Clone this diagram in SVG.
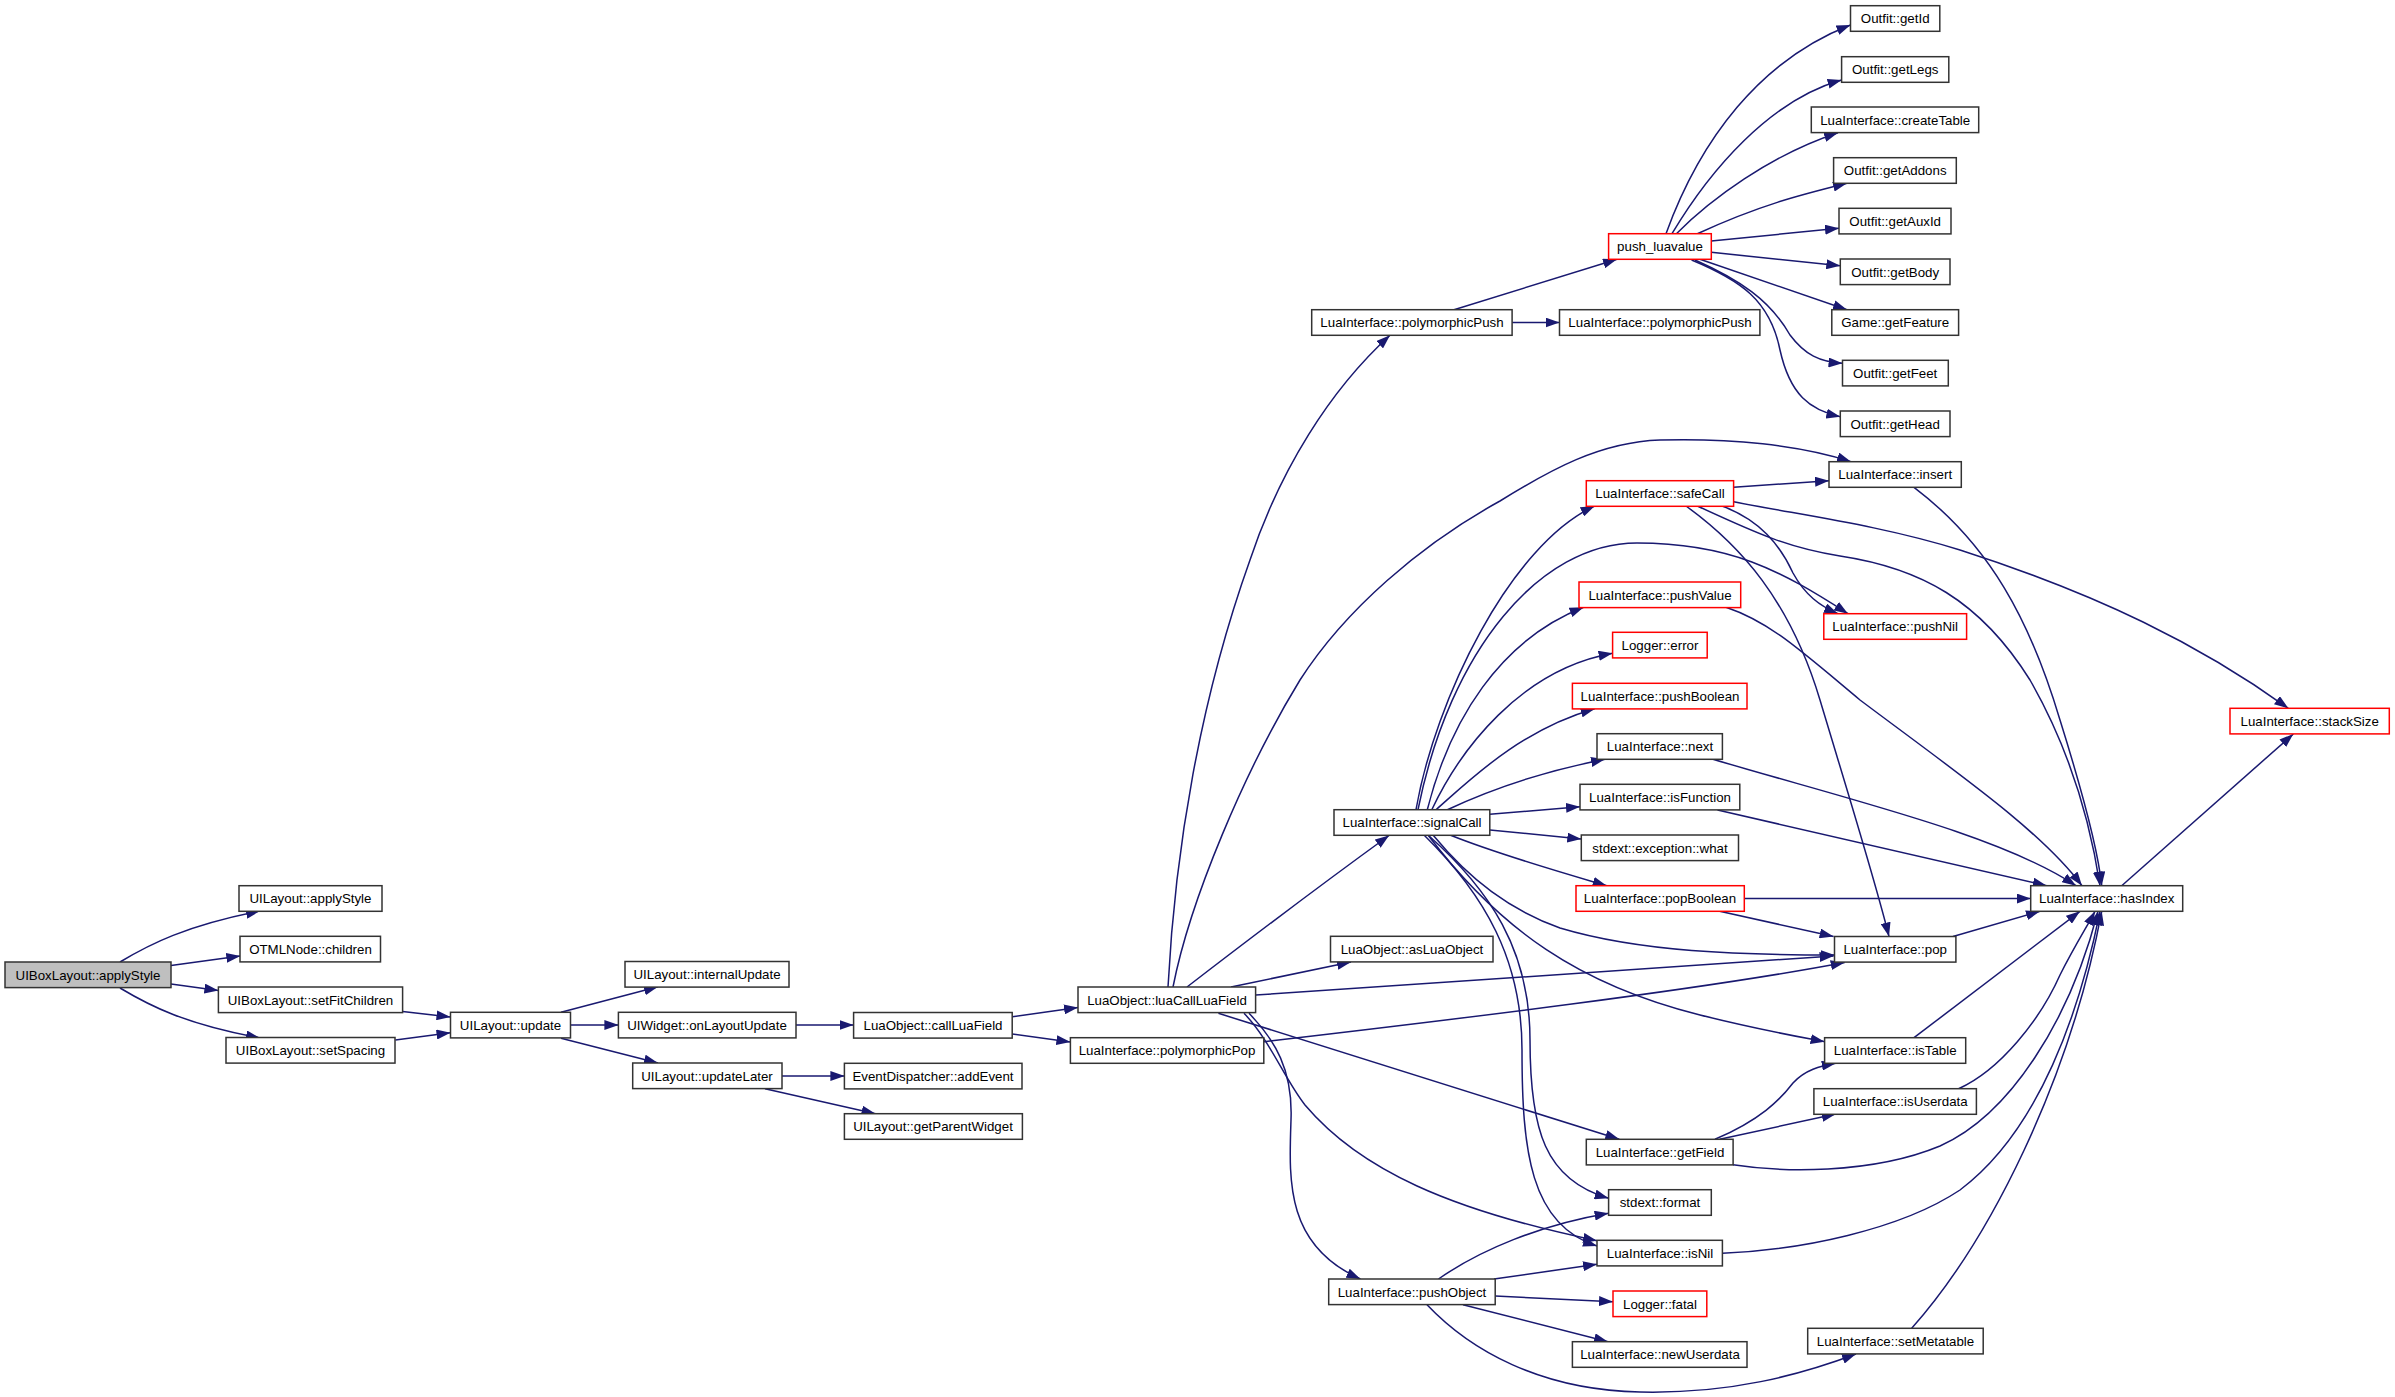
<svg xmlns="http://www.w3.org/2000/svg" width="2395" height="1397" viewBox="0 0 2395 1397">
<style>
.node rect{fill:#ffffff;stroke:#333333;stroke-width:1.5}
.node.red rect{stroke:#ff0000}
.node.root rect{fill:#bfbfbf}
.node text{font-family:"Liberation Sans",Arial,sans-serif;font-size:13.3px;text-anchor:middle;fill:#000000}
#edges path{fill:none;stroke:#191970;stroke-width:1.5;marker-end:url(#arr)}
</style>
<defs>
<marker id="arr" markerUnits="userSpaceOnUse" markerWidth="14" markerHeight="10" viewBox="0 0 14 10" refX="14" refY="5" orient="auto">
<path d="M0,0 L14,5 L0,10 z" fill="#191970"/>
</marker>
</defs>
<rect x="0" y="0" width="2395" height="1397" fill="#ffffff"/>
<g id="edges">
<path d="M120,962 C150,944 185,926 260,911"/>
<path d="M171,965.5 L240.3,956"/>
<path d="M171,984 L218.4,990.5"/>
<path d="M120,988 C150,1006 185,1024 260,1038"/>
<path d="M402.6,1011.5 L450.5,1017"/>
<path d="M395.4,1040 L450.5,1032.7"/>
<path d="M561,1012.3 L658,986.8"/>
<path d="M570.5,1025 L618.4,1025"/>
<path d="M561,1038.3 L658,1063"/>
<path d="M782,1076 L844.4,1076"/>
<path d="M765,1088.7 L875.5,1113.7"/>
<path d="M796,1025 L853.6,1025"/>
<path d="M1012.2,1016.7 L1078,1007.5"/>
<path d="M1012.2,1034 L1070.4,1042"/>
<path d="M1231,987 L1351,962"/>
<path d="M1187,987 Q1300,900 1389,835.5"/>
<path d="M1168,987 C1175,850 1200,700 1250,560 C1280,470 1330,390 1390,335.3"/>
<path d="M1173,987 C1190,900 1245,770 1300,680 C1345,610 1420,545 1500,501 C1550,470 1600,442 1660,440 C1730,438 1800,445 1851,461.7"/>
<path d="M1255.6,995 L1833.6,956"/>
<path d="M1218.4,1013.3 L1619.3,1139.3"/>
<path d="M1244,1013.3 C1270,1040 1285,1080 1305,1105 C1360,1170 1450,1210 1597,1240.7"/>
<path d="M1249,1013.3 C1275,1040 1293,1070 1291,1120 C1289,1180 1285,1245 1360.4,1279"/>
<path d="M1264,1041.7 C1450,1020 1700,990 1844.7,962.5"/>
<path d="M1416,809.7 C1435,700 1510,545 1594.7,506"/>
<path d="M1418,809.7 C1450,650 1540,543 1637,543 C1730,543 1780,570 1848,613.7"/>
<path d="M1427.3,809.7 C1450,720 1500,640 1583.6,607.3"/>
<path d="M1431.8,809.7 C1460,750 1520,670 1612.6,653.3"/>
<path d="M1436,809.7 C1470,780 1520,730 1594.7,708.7"/>
<path d="M1447.4,809.7 C1500,785 1550,770 1605,759.3"/>
<path d="M1489.8,814.3 L1580,806.7"/>
<path d="M1490,830 L1581.3,839"/>
<path d="M1450,835 C1500,855 1560,872 1606.7,885.7"/>
<path d="M1433,835 C1470,880 1510,910 1560,928 C1640,952 1740,955 1834.5,955"/>
<path d="M1428,835 C1500,930 1580,985 1700,1015 C1760,1030 1800,1037 1824.6,1041.7"/>
<path d="M1428,835 C1490,890 1530,950 1530,1040 C1530,1130 1545,1180 1608.6,1198.3"/>
<path d="M1424,835 C1485,895 1522,960 1522,1050 C1522,1150 1530,1225 1597,1246"/>
<path d="M1733.6,487.3 L1829,480.7"/>
<path d="M1733.6,501.7 C1800,515 1880,525 1960,550 C2100,595 2200,645 2288.3,708.3"/>
<path d="M1697.4,506 C1760,535 1790,548 1840,556 C1920,568 1980,600 2030,680 C2070,750 2090,820 2100,885.7"/>
<path d="M1722,506 C1760,520 1780,545 1793,573 C1805,595 1820,606 1838,613.7"/>
<path d="M1686,506 C1740,545 1790,600 1820,700 C1850,800 1875,880 1889,936.5"/>
<path d="M1726,607.3 C1770,622 1800,650 1860,700 C1960,775 2040,830 2082,885.7"/>
<path d="M1713,759.3 C1850,800 2000,835 2076,885.7"/>
<path d="M1717.5,810 L2046.7,885.7"/>
<path d="M1744.3,898.5 L2030.7,898.5"/>
<path d="M1719.7,911.3 L1833.6,936.5"/>
<path d="M1914,487.3 C1990,545 2030,620 2060,720 C2085,800 2098,850 2101.7,885.7"/>
<path d="M1953,936.5 L2040,911.3"/>
<path d="M1914,1037.7 L2080,911.3"/>
<path d="M1958.6,1088.7 C2000,1070 2040,1020 2060,975 C2075,945 2088,925 2095,911.3"/>
<path d="M1733,1164.7 C1780,1172 1870,1175 1940,1146 C2010,1115 2070,1020 2098,911.3"/>
<path d="M1722.4,1253.3 C1800,1250 1900,1230 1960,1190 C2040,1130 2080,1010 2100,911.3"/>
<path d="M1911.7,1328.3 C1990,1240 2070,1080 2101.7,911.3"/>
<path d="M2121.7,885.7 L2293.3,734"/>
<path d="M1715,1139.3 C1760,1120 1780,1100 1793,1083 C1805,1070 1820,1066 1835.8,1063.3"/>
<path d="M1719.7,1139.3 L1835.8,1114"/>
<path d="M1438.5,1279 C1480,1250 1540,1225 1608.6,1213.3"/>
<path d="M1494,1279 L1597,1264.3"/>
<path d="M1495.2,1296 L1613,1301.7"/>
<path d="M1463,1304.7 L1608,1341.7"/>
<path d="M1427,1304.7 C1470,1350 1540,1390 1640,1392 C1730,1394 1800,1375 1856,1354"/>
<path d="M1454,309.7 L1617,259.3"/>
<path d="M1512.1,322.5 L1559.5,322.5"/>
<path d="M1666,233.7 C1700,140 1760,60 1850.5,25"/>
<path d="M1672,233.7 C1710,170 1770,100 1841.6,80"/>
<path d="M1676.4,233.7 C1710,200 1770,155 1838,132.7"/>
<path d="M1697.4,233.7 C1760,205 1800,195 1847,183.3"/>
<path d="M1711.3,241 L1839,228.3"/>
<path d="M1711.3,252.3 L1840.3,265.7"/>
<path d="M1700,259.3 L1847,309.7"/>
<path d="M1695,260 C1740,280 1770,300 1790,335 C1805,355 1820,362 1842.5,363.3"/>
<path d="M1691.6,260 C1740,280 1770,300 1780,350 C1790,395 1810,410 1840.3,416.7"/>
</g>
<g id="n1" class="node root"><rect x="5" y="962" width="166" height="25.6"/><text x="88" y="979.5">UIBoxLayout::applyStyle</text></g>
<g id="n2" class="node"><rect x="239" y="885.7" width="143" height="25.6"/><text x="310.5" y="903.2">UILayout::applyStyle</text></g>
<g id="n3" class="node"><rect x="240" y="936.3" width="140.5" height="25.6"/><text x="310.5" y="953.8">OTMLNode::children</text></g>
<g id="n4" class="node"><rect x="218.4" y="987" width="184.2" height="25.6"/><text x="310.5" y="1004.5">UIBoxLayout::setFitChildren</text></g>
<g id="n5" class="node"><rect x="226" y="1037.5" width="169" height="25.6"/><text x="310.5" y="1055">UIBoxLayout::setSpacing</text></g>
<g id="n6" class="node"><rect x="450.5" y="1012.3" width="120" height="25.6"/><text x="510.5" y="1029.8">UILayout::update</text></g>
<g id="n7" class="node"><rect x="625" y="961.5" width="164" height="25.6"/><text x="707" y="979">UILayout::internalUpdate</text></g>
<g id="n8" class="node"><rect x="618.4" y="1012.3" width="177.6" height="25.6"/><text x="707" y="1029.8">UIWidget::onLayoutUpdate</text></g>
<g id="n9" class="node"><rect x="632.7" y="1063" width="149.3" height="25.6"/><text x="707" y="1080.5">UILayout::updateLater</text></g>
<g id="n10" class="node"><rect x="844.4" y="1063.3" width="177.6" height="25.6"/><text x="933" y="1080.8">EventDispatcher::addEvent</text></g>
<g id="n11" class="node"><rect x="844.4" y="1113.7" width="178" height="25.6"/><text x="933" y="1131.2">UILayout::getParentWidget</text></g>
<g id="n12" class="node"><rect x="853.6" y="1012.5" width="158.6" height="25.6"/><text x="933" y="1030">LuaObject::callLuaField</text></g>
<g id="n13" class="node"><rect x="1078" y="987" width="177.6" height="25.6"/><text x="1167" y="1004.5">LuaObject::luaCallLuaField</text></g>
<g id="n14" class="node"><rect x="1070.4" y="1037.7" width="193.4" height="25.6"/><text x="1167" y="1055.2">LuaInterface::polymorphicPop</text></g>
<g id="n15" class="node"><rect x="1330.5" y="936.3" width="162.5" height="25.6"/><text x="1412" y="953.8">LuaObject::asLuaObject</text></g>
<g id="n16" class="node"><rect x="1334" y="809.7" width="155.8" height="25.6"/><text x="1412" y="827.2">LuaInterface::signalCall</text></g>
<g id="n17" class="node"><rect x="1311.7" y="309.7" width="200.4" height="25.6"/><text x="1412" y="327.2">LuaInterface::polymorphicPush</text></g>
<g id="n18" class="node"><rect x="1559.5" y="309.7" width="200.4" height="25.6"/><text x="1660" y="327.2">LuaInterface::polymorphicPush</text></g>
<g id="n19" class="node red"><rect x="1608.6" y="233.7" width="102.7" height="25.6"/><text x="1660" y="251.2">push_luavalue</text></g>
<g id="n20" class="node"><rect x="1850.5" y="5.7" width="89.3" height="25.6"/><text x="1895.2" y="23.2">Outfit::getId</text></g>
<g id="n21" class="node"><rect x="1841.6" y="56.7" width="107.2" height="25.6"/><text x="1895.2" y="74.2">Outfit::getLegs</text></g>
<g id="n22" class="node"><rect x="1811.3" y="107" width="167.4" height="25.6"/><text x="1895.2" y="124.5">LuaInterface::createTable</text></g>
<g id="n23" class="node"><rect x="1833.6" y="157.7" width="122.7" height="25.6"/><text x="1895.2" y="175.2">Outfit::getAddons</text></g>
<g id="n24" class="node"><rect x="1839" y="208.3" width="112" height="25.6"/><text x="1895.2" y="225.8">Outfit::getAuxId</text></g>
<g id="n25" class="node"><rect x="1840.3" y="259" width="109.7" height="25.6"/><text x="1895.2" y="276.5">Outfit::getBody</text></g>
<g id="n26" class="node"><rect x="1831.8" y="309.7" width="126.8" height="25.6"/><text x="1895.2" y="327.2">Game::getFeature</text></g>
<g id="n27" class="node"><rect x="1842.5" y="360.3" width="105.8" height="25.6"/><text x="1895.2" y="377.8">Outfit::getFeet</text></g>
<g id="n28" class="node"><rect x="1840.3" y="411" width="109.7" height="25.6"/><text x="1895.2" y="428.5">Outfit::getHead</text></g>
<g id="n29" class="node"><rect x="1829" y="461.7" width="132.3" height="25.6"/><text x="1895.2" y="479.2">LuaInterface::insert</text></g>
<g id="n30" class="node red"><rect x="1586.3" y="480.7" width="147.3" height="25.6"/><text x="1660" y="498.2">LuaInterface::safeCall</text></g>
<g id="n31" class="node red"><rect x="1579" y="582" width="161.7" height="25.6"/><text x="1660" y="599.5">LuaInterface::pushValue</text></g>
<g id="n32" class="node red"><rect x="1823.8" y="613.7" width="142.8" height="25.6"/><text x="1895.2" y="631.2">LuaInterface::pushNil</text></g>
<g id="n33" class="node red"><rect x="1612.6" y="632.3" width="94.6" height="25.6"/><text x="1660" y="649.8">Logger::error</text></g>
<g id="n34" class="node red"><rect x="1572.4" y="683.3" width="174.6" height="25.6"/><text x="1660" y="700.8">LuaInterface::pushBoolean</text></g>
<g id="n35" class="node"><rect x="1597" y="733.7" width="125.4" height="25.6"/><text x="1660" y="751.2">LuaInterface::next</text></g>
<g id="n36" class="node"><rect x="1580" y="784.3" width="159.8" height="25.6"/><text x="1660" y="801.8">LuaInterface::isFunction</text></g>
<g id="n37" class="node"><rect x="1581.3" y="835" width="157.2" height="25.6"/><text x="1660" y="852.5">stdext::exception::what</text></g>
<g id="n38" class="node red"><rect x="1576" y="885.7" width="168.3" height="25.6"/><text x="1660" y="903.2">LuaInterface::popBoolean</text></g>
<g id="n39" class="node"><rect x="1834.5" y="936.5" width="121.4" height="25.6"/><text x="1895.2" y="954">LuaInterface::pop</text></g>
<g id="n40" class="node"><rect x="2030.7" y="885.7" width="152" height="25.6"/><text x="2106.7" y="903.2">LuaInterface::hasIndex</text></g>
<g id="n41" class="node red"><rect x="2230" y="708.3" width="159.3" height="25.6"/><text x="2309.7" y="725.8">LuaInterface::stackSize</text></g>
<g id="n42" class="node"><rect x="1824.6" y="1037.7" width="141.1" height="25.6"/><text x="1895.2" y="1055.2">LuaInterface::isTable</text></g>
<g id="n43" class="node"><rect x="1813.9" y="1088.7" width="162.5" height="25.6"/><text x="1895.2" y="1106.2">LuaInterface::isUserdata</text></g>
<g id="n44" class="node"><rect x="1586.3" y="1139.3" width="146.8" height="25.6"/><text x="1660" y="1156.8">LuaInterface::getField</text></g>
<g id="n45" class="node"><rect x="1608.6" y="1189.7" width="102.7" height="25.6"/><text x="1660" y="1207.2">stdext::format</text></g>
<g id="n46" class="node"><rect x="1597" y="1240.3" width="125.4" height="25.6"/><text x="1660" y="1257.8">LuaInterface::isNil</text></g>
<g id="n47" class="node"><rect x="1328.7" y="1279" width="166.5" height="25.6"/><text x="1412" y="1296.5">LuaInterface::pushObject</text></g>
<g id="n48" class="node red"><rect x="1613" y="1291" width="93.8" height="25.6"/><text x="1660" y="1308.5">Logger::fatal</text></g>
<g id="n49" class="node"><rect x="1572.4" y="1341.7" width="174.6" height="25.6"/><text x="1660" y="1359.2">LuaInterface::newUserdata</text></g>
<g id="n50" class="node"><rect x="1807.7" y="1328.3" width="175.5" height="25.6"/><text x="1895.5" y="1345.8">LuaInterface::setMetatable</text></g>
</svg>
